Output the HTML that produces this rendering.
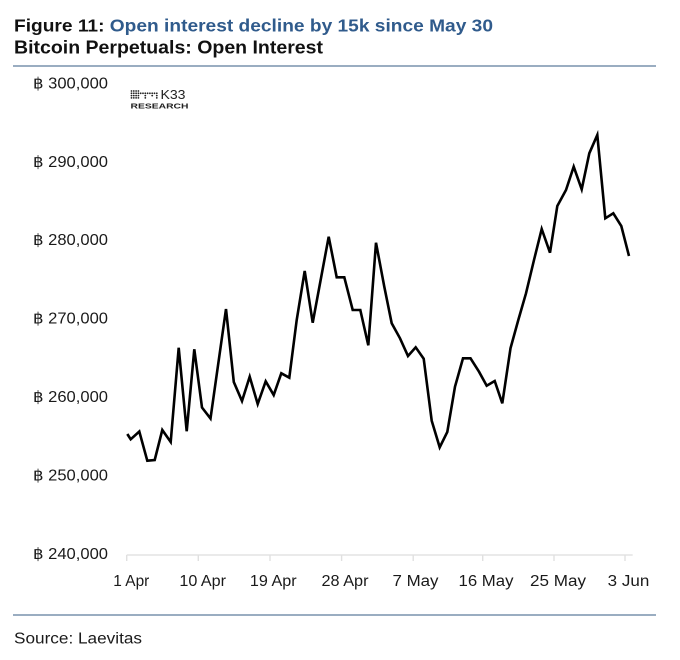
<!DOCTYPE html>
<html>
<head>
<meta charset="utf-8">
<style>
  html,body{margin:0;padding:0;background:#fff;}
  svg{display:block;}
  text{font-family:"Liberation Sans","DejaVu Sans",sans-serif;}
</style>
</head>
<body>
<svg width="680" height="660" viewBox="0 0 680 660" xmlns="http://www.w3.org/2000/svg">
  <rect width="680" height="660" fill="#fff"/>

  <!-- Title -->
  <text x="14" y="31.5" font-size="17.5" font-weight="bold" fill="#111" textLength="479" lengthAdjust="spacingAndGlyphs"><tspan>Figure 11: </tspan><tspan fill="#305b8c">Open interest decline by 15k since May 30</tspan></text>
  <text x="14" y="53.5" font-size="18" font-weight="bold" fill="#111" textLength="309" lengthAdjust="spacingAndGlyphs">Bitcoin Perpetuals: Open Interest</text>

  <!-- top rule -->
  <line x1="13" y1="66" x2="656" y2="66" stroke="#5d7c9c" stroke-width="1.3"/>

  <!-- Y labels -->
  <g font-size="15.5" fill="#1a1a1a">
    <text x="33" y="88.3" textLength="75" lengthAdjust="spacingAndGlyphs">฿ 300,000</text>
    <text x="33" y="166.8" textLength="75" lengthAdjust="spacingAndGlyphs">฿ 290,000</text>
    <text x="33" y="245.2" textLength="75" lengthAdjust="spacingAndGlyphs">฿ 280,000</text>
    <text x="33" y="323.7" textLength="75" lengthAdjust="spacingAndGlyphs">฿ 270,000</text>
    <text x="33" y="402.1" textLength="75" lengthAdjust="spacingAndGlyphs">฿ 260,000</text>
    <text x="33" y="480.6" textLength="75" lengthAdjust="spacingAndGlyphs">฿ 250,000</text>
    <text x="33" y="559" textLength="75" lengthAdjust="spacingAndGlyphs">฿ 240,000</text>
  </g>

  <!-- K33 logo -->
  <g fill="#222">
    <!-- dot matrix icon -->
    <g>
      <circle cx="131.5" cy="91" r="0.9"/><circle cx="133.8" cy="91" r="0.9"/><circle cx="136.1" cy="91" r="0.9"/><circle cx="138.4" cy="91" r="0.9"/>
      <circle cx="131.5" cy="93.3" r="0.9"/><circle cx="133.8" cy="93.3" r="0.9"/><circle cx="136.1" cy="93.3" r="0.9"/><circle cx="138.4" cy="93.3" r="0.9"/><circle cx="140.7" cy="93.3" r="0.9"/><circle cx="143" cy="93.3" r="0.9"/><circle cx="145.3" cy="93.3" r="0.9"/><circle cx="147.6" cy="93.3" r="0.9"/><circle cx="149.9" cy="93.3" r="0.9"/><circle cx="152.2" cy="93.3" r="0.9"/><circle cx="154.5" cy="93.3" r="0.9"/><circle cx="156.8" cy="93.3" r="0.9"/>
      <circle cx="131.5" cy="95.6" r="0.9"/><circle cx="133.8" cy="95.6" r="0.9"/><circle cx="136.1" cy="95.6" r="0.9"/><circle cx="138.4" cy="95.6" r="0.9"/><circle cx="145.3" cy="95.6" r="0.9"/><circle cx="152.2" cy="95.6" r="0.9"/><circle cx="156.8" cy="95.6" r="0.9"/>
      <circle cx="131.5" cy="97.9" r="0.9"/><circle cx="133.8" cy="97.9" r="0.9"/><circle cx="136.1" cy="97.9" r="0.9"/><circle cx="138.4" cy="97.9" r="0.9"/><circle cx="145.3" cy="97.9" r="0.9"/><circle cx="156.8" cy="97.9" r="0.9"/>
    </g>
    <text x="160.5" y="99" font-size="12.5" textLength="25" lengthAdjust="spacingAndGlyphs">K33</text>
    <text x="130.5" y="108.3" font-size="7.6" font-weight="bold" textLength="58" lengthAdjust="spacingAndGlyphs">RESEARCH</text>
  </g>

  <!-- X axis -->
  <line x1="126.7" y1="555" x2="632.7" y2="555" stroke="#e4e4e4" stroke-width="1.6"/>
  <g stroke="#e0e0e0" stroke-width="1.4">
    <line x1="126.7" y1="555" x2="126.7" y2="561"/>
    <line x1="198.3" y1="555" x2="198.3" y2="561"/>
    <line x1="270" y1="555" x2="270" y2="561"/>
    <line x1="341.6" y1="555" x2="341.6" y2="561"/>
    <line x1="413.2" y1="555" x2="413.2" y2="561"/>
    <line x1="482.7" y1="555" x2="482.7" y2="561"/>
    <line x1="554" y1="555" x2="554" y2="561"/>
    <line x1="625" y1="555" x2="625" y2="561"/>
  </g>

  <!-- X labels -->
  <g font-size="15.5" fill="#1a1a1a" text-anchor="middle">
    <text x="131.3" y="586" textLength="36" lengthAdjust="spacingAndGlyphs">1 Apr</text>
    <text x="202.7" y="586" textLength="46.7" lengthAdjust="spacingAndGlyphs">10 Apr</text>
    <text x="273.3" y="586" textLength="46.7" lengthAdjust="spacingAndGlyphs">19 Apr</text>
    <text x="345" y="586" textLength="47" lengthAdjust="spacingAndGlyphs">28 Apr</text>
    <text x="415.5" y="586" textLength="46" lengthAdjust="spacingAndGlyphs">7 May</text>
    <text x="486" y="586" textLength="55" lengthAdjust="spacingAndGlyphs">16 May</text>
    <text x="558" y="586" textLength="56" lengthAdjust="spacingAndGlyphs">25 May</text>
    <text x="628.5" y="586" textLength="41.6" lengthAdjust="spacingAndGlyphs">3 Jun</text>
  </g>

  <!-- Data line -->
  <polyline fill="none" stroke="#000" stroke-width="2.6" stroke-linejoin="miter" stroke-miterlimit="4" points="
    127.3,434 130.7,439.3 139.3,431.5 147.3,460.7 154.7,460 162.3,430 170.7,442 178.7,347.7 186.7,431.3 194.3,349.3
    202,407.5 210.5,418.5 226,309 233.8,382 242,401 249.7,376.7 257.7,404 265.7,381.3 273.7,395 281.3,373.3
    289.3,377.7 296.7,320 304.7,271 312.7,322.7 328.7,236.7 336.7,277.3 344.3,277.3 352.7,310 360.3,310 368.3,345.3
    376,242.7 384.3,286.7 391.7,323.3 400,338.3 408,356 415.7,347.3 423.7,358.7 431.7,420.7 439.7,447.3 447.3,432
    455,386.7 463,358.3 470.5,358.3 479,371.7 486.7,385.7 494.7,381 502.3,403.3 510.5,348.3 518.3,320 526,293.3
    534,260 541.7,229 550,252.7 557.3,206 566,190 573.7,166.7 581.7,189.3 589.3,153.3 597.3,135 605.3,218.3
    613.3,213.3 621.3,226 629,256"/>

  <!-- bottom rule -->
  <line x1="13" y1="615" x2="656" y2="615" stroke="#5d7c9c" stroke-width="1.3"/>

  <!-- Source -->
  <text x="14" y="643.3" font-size="15.5" fill="#1a1a1a" textLength="128" lengthAdjust="spacingAndGlyphs">Source: Laevitas</text>
</svg>
</body>
</html>
